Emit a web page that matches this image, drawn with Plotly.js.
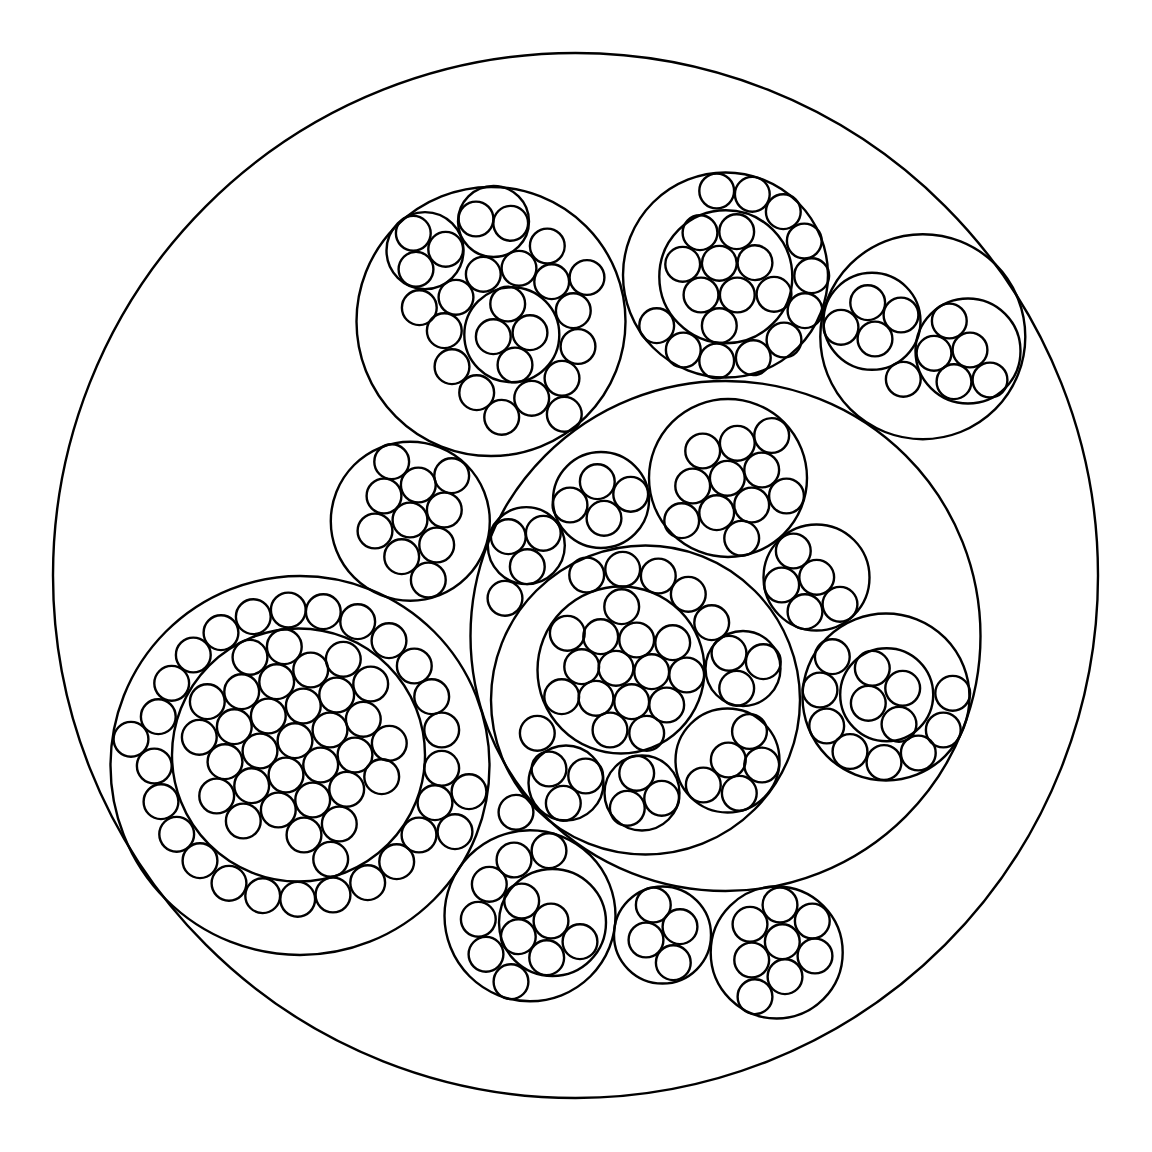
<!DOCTYPE html>
<html>
<head>
<meta charset="utf-8">
<script src="https://cdn.plot.ly/plotly-3.0.1.min.js"></script>
<style>html,body{margin:0;padding:0;background:#ffffff;}#chart{width:1152px;height:1152px;}</style>
</head>
<body>
<div id="chart"></div>
<script>
// ---- Container circles (root, level 1, level 2, level 3) ----
const containerNames = ['root','A','B','C','D','E','F','G','H','I',
  'A1','A2','A3','B1','C1','C2','E1','E2','E3','E4','E5','E6','F1','G1',
  'E2a','E2b','E2c','E2d','E2e','E6a'];
const containerX = [575.5, 491, 725.5, 922.8, 410.3, 725.5, 300, 530, 662.5, 776.7,
  425, 493.5, 511.8, 725.8, 872, 968, 526.3, 645.5, 601, 728, 816.5, 886, 298.5, 552.5,
  621, 743, 727.5, 566, 642, 886.7];
const containerY = [575.5, 321.5, 275, 336.7, 521.2, 636, 765.5, 915.8, 935, 952.5,
  250.6, 221.5, 334.8, 276.7, 321.3, 351, 545.6, 700, 500, 478, 577.5, 697, 755, 922.5,
  670, 668.5, 760.5, 783, 793, 694.7];
const containerR = [522.5, 134.5, 102.5, 102.5, 79.5, 255, 189.5, 85.5, 48.5, 66,
  38.5, 35.5, 47.5, 66.5, 48.5, 52.5, 38.5, 154.5, 48, 79, 53, 83.5, 126.5, 53.5,
  83.5, 37.5, 52, 37.5, 37.5, 46.5];

// ---- Leaf circles, grouped by parent ----
const leafRadius = 17.4;
const leavesRoot = [[516,812.3]];
const leavesA = [[547.3,246],[587,277.5],[483.3,274.3],[519,268.3],[551.7,281.7],[419.3,307.7],[456,297.3],[444.3,330.7],
  [573.3,310.7],[578,346.5],[452,366.7],[476.7,392.7],[562,378.3],[531.7,398.3],[501.7,417.3],[564.3,414.3]];
const leavesA1 = [[413.3,233.3],[445.7,249.3],[416,269.3]];
const leavesA2 = [[476,219],[510.7,223.3]];
const leavesA3 = [[507.7,304],[493.3,336.7],[530,332.7],[515,365]];
const leavesB = [[716.7,191],[752.3,194.3],[783.3,211.7],[804.3,241],[811.7,275.7],[805,310.7],[784,340],[753.3,357.7],
  [716.7,361],[683.3,350],[656.7,325.7]];
const leavesB1 = [[700,232.7],[736.7,231.7],[682.7,264.3],[719.3,263.3],[755,262.7],[701,295],[737.3,295],[774,294.3],[719.3,325.7]];
const leavesC = [[903.3,379.3]];
const leavesC1 = [[867.7,302.7],[901,315],[841,327.3],[875,339]];
const leavesC2 = [[949.3,321],[934,353.3],[970,350],[954,381.7],[990,380]];
const leavesD = [[391.7,461.7],[451.7,475.7],[384,496],[418.3,485],[444.3,510],[410,520],[375,531],[436.7,545],[401.7,556.7],[428.3,580]];
const leavesE = [[505,598.3]];
const leavesE1 = [[508.3,536.7],[543.3,533.3],[527.3,566.7]];
const leavesE2 = [[586.7,575],[622.7,569.3],[658.3,576],[688.3,594.3],[711.7,622.7],[537.3,733.3]];
const leavesE2a = [[621.7,606.7],[567.3,633.3],[600.7,636.7],[636.7,640],[672.7,642.7],[581.7,666.7],[616,668.3],[651.7,671.7],
  [686.7,675],[561.7,696.7],[596,698.3],[631.7,701.7],[666.7,705],[610,730],[646.7,733.3]];
const leavesE2b = [[729,653.3],[763.3,661.7],[736.7,688.3]];
const leavesE2c = [[749.5,731.5],[728.3,760],[761.7,765],[703.3,785],[739.3,793.3]];
const leavesE2d = [[549,769],[585.7,776],[563.3,803.3]];
const leavesE2e = [[636.7,773.3],[661.7,798.3],[627.3,808.3]];
const leavesE3 = [[597.3,481.7],[630.7,494.3],[570,505],[604,518.3]];
const leavesE4 = [[702.7,451],[737.3,443.3],[771.7,435.5],[692.7,486],[727.3,478.3],[761.7,470],[786.5,496],[681.7,520.7],
  [716.7,512.7],[751.7,505],[741.7,538.3]];
const leavesE5 = [[793.3,551],[816.7,577.3],[781.7,585],[805,611.7],[840,604.3]];
const leavesE6 = [[832.3,656.7],[820,690],[826.7,726],[850,751.5],[884,762.5],[918.3,753],[943.3,730],[952.7,693.3]];
const leavesE6a = [[872.3,668.3],[902.7,688.3],[868.3,703.3],[899,724.3]];
const leavesF = [[288.3,610],[253.3,616.7],[221,632.7],[193.3,655],[171.7,683.3],[158.3,716.7],[131,739.3],[154.3,766],
  [161,801.7],[176.7,834.3],[200,860.7],[229,883.3],[262.7,895.7],[297.7,899.3],[333,895],[367.7,882.7],[396.7,861.7],
  [419,835],[455,831.7],[435,802.7],[469,791.7],[441.7,768.3],[441.7,730],[431.7,696.7],[414.3,666],[389,640.7],
  [357.7,621.7],[323.3,611.7]];
const leavesF1 = [[284.3,646.7],[250,657.3],[343.3,659.3],[310.7,670],[370.7,684],[276.7,681.7],[336.7,695],[241.7,691.7],
  [303.3,706],[207.3,701.7],[363.3,719.3],[268.3,716],[330,730],[234.3,726.7],[389.3,743.3],[199.3,737.3],[295,740.7],
  [355,755],[260,751],[320.7,765],[225,761.7],[381.7,776.7],[286,775],[346.7,789.3],[251.7,785.7],[216.7,796],
  [312.7,800],[278.3,810],[339.3,824],[243.3,821],[304,835],[330.7,859.3]];
const leavesG = [[514,860],[549,850.7],[489.3,884.3],[478.3,919.3],[486,954.3],[511,981.7]];
const leavesG1 = [[521.7,901],[551,921],[518.3,936.7],[580,941.7],[546.7,957.7]];
const leavesH = [[653.3,905],[680,926.7],[646,940],[673.3,962.7]];
const leavesI = [[780,905],[750,924.3],[812.3,921],[782.3,941.7],[751.7,960],[815,956],[785,976.7],[755,996.7]];

const allLeafGroups = [leavesRoot, leavesA, leavesA1, leavesA2, leavesA3, leavesB, leavesB1, leavesC, leavesC1, leavesC2,
  leavesD, leavesE, leavesE1, leavesE2, leavesE2a, leavesE2b, leavesE2c, leavesE2d, leavesE2e, leavesE3, leavesE4,
  leavesE5, leavesE6, leavesE6a, leavesF, leavesF1, leavesG, leavesG1, leavesH, leavesI];

const lineStyle = {color: '#000000', width: 2.4};
function circleShape(cx, cy, r) {
  return {type: 'circle', xref: 'x', yref: 'y', x0: cx - r, x1: cx + r, y0: cy - r, y1: cy + r,
    line: lineStyle, fillcolor: 'rgba(0,0,0,0)', layer: 'above'};
}

const shapes = [];
for (let i = 0; i < containerNames.length; i++) {
  shapes.push(circleShape(containerX[i], containerY[i], containerR[i]));
}
const leafXs = [], leafYs = [];
allLeafGroups.forEach(group => group.forEach(p => {
  shapes.push(circleShape(p[0], p[1], leafRadius));
  leafXs.push(p[0]); leafYs.push(p[1]);
}));

const traces = [{
  type: 'scatter', mode: 'markers', x: leafXs, y: leafYs,
  marker: {size: 1, opacity: 0}, hoverinfo: 'skip', showlegend: false
}];

const layout = {
  width: 1152, height: 1152,
  margin: {l: 0, r: 0, t: 0, b: 0, pad: 0},
  paper_bgcolor: '#ffffff', plot_bgcolor: '#ffffff',
  xaxis: {range: [0, 1152], visible: false, fixedrange: true},
  yaxis: {range: [1152, 0], visible: false, fixedrange: true},
  showlegend: false,
  shapes: shapes
};

Plotly.newPlot('chart', traces, layout, {staticPlot: true, displayModeBar: false});
</script>
</body>
</html>
